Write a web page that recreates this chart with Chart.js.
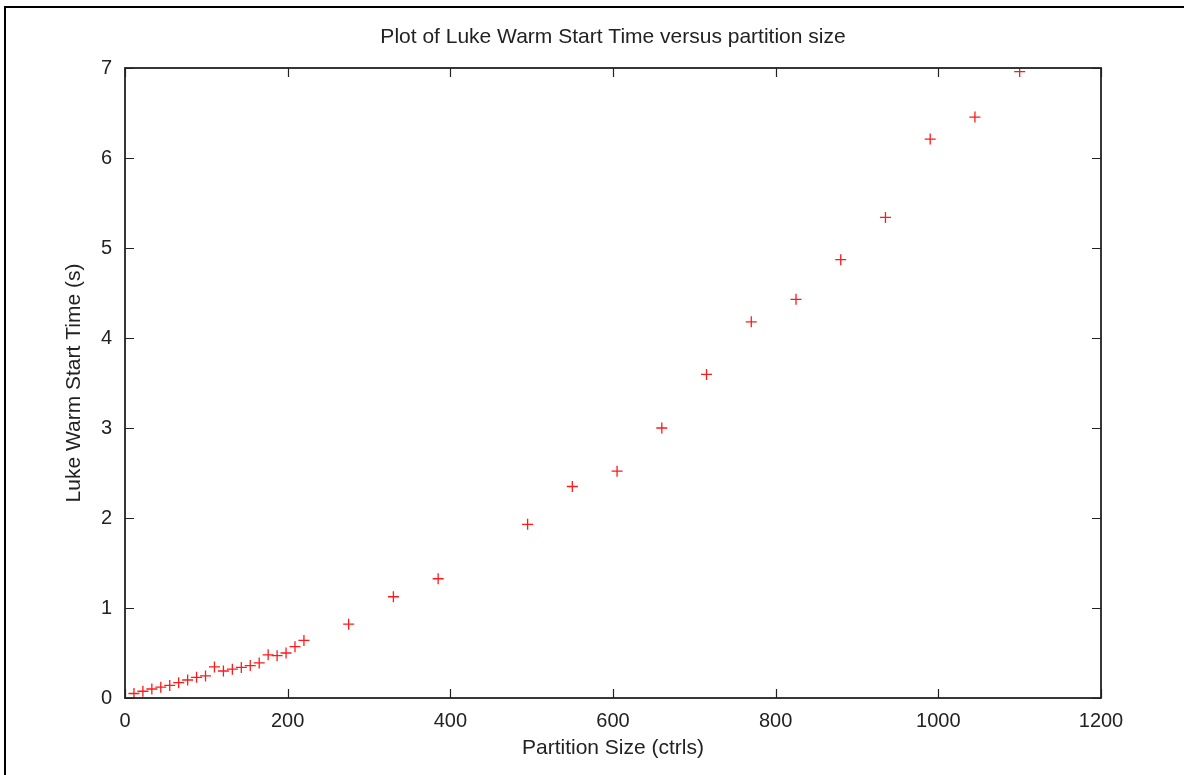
<!DOCTYPE html>
<html>
<head>
<meta charset="utf-8">
<script src="https://cdn.jsdelivr.net/npm/chart.js@4/dist/chart.umd.min.js"></script>
<style>
  html, body { margin: 0; padding: 0; background: #fff; }
  #wrap { width: 1184px; height: 775px; position: relative; }
</style>
</head>
<body>
<div id="wrap"><canvas id="c" width="1184" height="775"></canvas></div>
<script>
const partitionSizes = [11,22,33,44,55,66,77,88,99,110,121,132,143,154,165,176,187,198,209,220,275,330,385,495,550,605,660,715,770,825,880,935,990,1045,1100];
const warmStartTimes = [0.05,0.075,0.10,0.12,0.14,0.17,0.20,0.23,0.245,0.345,0.30,0.32,0.34,0.36,0.39,0.48,0.47,0.50,0.57,0.64,0.82,1.125,1.325,1.93,2.35,2.52,3.00,3.595,4.18,4.43,4.87,5.34,6.21,6.455,6.96];
const xTicks = [0,200,400,600,800,1000,1200];
const yTicks = [0,1,2,3,4,5,6,7];
const chartTitle = 'Plot of Luke Warm Start Time versus partition size';
const xTitle = 'Partition Size (ctrls)';
const yTitle = 'Luke Warm Start Time (s)';

const FONT = "'Liberation Sans', Arial, Helvetica, sans-serif";
const TEXT = '#222';

const framePlugin = {
  id: 'frame',
  afterDatasetsDraw(chart) {
    const ctx = chart.ctx;
    const a = chart.chartArea;
    const xs = chart.scales.x, ys = chart.scales.y;
    ctx.save();
    // outer frame
    ctx.strokeStyle = '#000';
    ctx.lineWidth = 2;
    ctx.strokeRect(5, 7, 1200, 800);
    // title, centred over the plot area
    ctx.fillStyle = TEXT;
    ctx.font = "21px " + FONT;
    ctx.textAlign = 'center';
    ctx.textBaseline = 'middle';
    ctx.fillText(chartTitle, (a.left + a.right) / 2, 37);
    // plot box
    ctx.strokeStyle = '#222';
    ctx.lineWidth = 1.8;
    ctx.strokeRect(a.left, a.top, a.right - a.left, a.bottom - a.top);
    // inward ticks on all sides
    const tl = 9;
    ctx.lineWidth = 1.2;
    ctx.beginPath();
    xTicks.forEach(v => {
      const px = Math.round(xs.getPixelForValue(v)) + 0.5;
      ctx.moveTo(px, a.bottom); ctx.lineTo(px, a.bottom - tl);
      ctx.moveTo(px, a.top); ctx.lineTo(px, a.top + tl);
    });
    yTicks.forEach(v => {
      const py = Math.round(ys.getPixelForValue(v)) + 0.5;
      ctx.moveTo(a.left, py); ctx.lineTo(a.left + tl, py);
      ctx.moveTo(a.right, py); ctx.lineTo(a.right - tl, py);
    });
    ctx.stroke();
    ctx.restore();
  }
};

new Chart(document.getElementById('c'), {
  type: 'scatter',
  data: {
    datasets: [{
      data: partitionSizes.map((x, i) => ({ x: x, y: warmStartTimes[i] })),
      pointStyle: 'cross',
      pointRadius: 5.5,
      pointBorderWidth: 1.3,
      borderColor: '#ff1a1a',
      backgroundColor: '#ff1a1a',
      showLine: false
    }]
  },
  plugins: [framePlugin],
  options: {
    responsive: false,
    animation: false,
    devicePixelRatio: 1,
    layout: { padding: { left: 0, right: 83, top: 68, bottom: 0 } },
    plugins: {
      legend: { display: false },
      tooltip: { enabled: false },
      title: { display: false }
    },
    scales: {
      x: {
        type: 'linear',
        min: 0, max: 1200,
        afterBuildTicks(s) { s.ticks = xTicks.map(v => ({ value: v })); },
        afterFit(s) { s.height = 77; },
        grid: { display: false, drawTicks: false },
        border: { display: false },
        ticks: { color: TEXT, font: { family: FONT, size: 20 }, padding: 11, maxRotation: 0, callback: v => String(v) },
        title: { display: true, text: xTitle, color: TEXT, font: { family: FONT, size: 21 }, padding: { top: 0, bottom: 14 } }
      },
      y: {
        type: 'linear',
        min: 0, max: 7,
        afterBuildTicks(s) { s.ticks = yTicks.map(v => ({ value: v })); },
        afterFit(s) { s.width = 125; },
        grid: { display: false, drawTicks: false },
        border: { display: false },
        ticks: { color: TEXT, font: { family: FONT, size: 20 }, padding: 13, callback: v => String(v) },
        title: { display: true, text: yTitle, color: TEXT, font: { family: FONT, size: 21 }, padding: { top: 62, bottom: 0 } }
      }
    }
  }
});
</script>
</body>
</html>
